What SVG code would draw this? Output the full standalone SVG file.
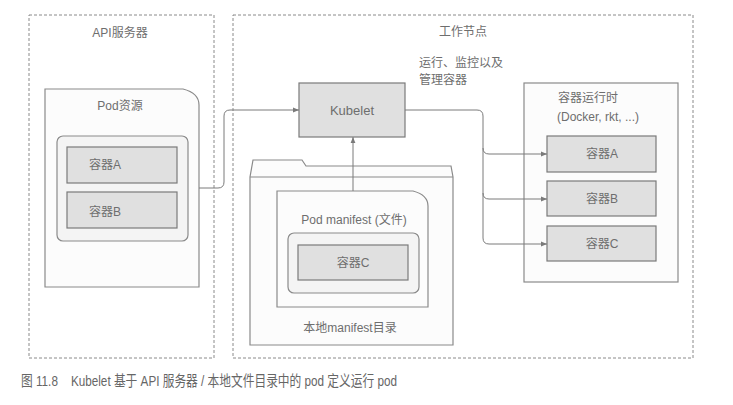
<svg xmlns="http://www.w3.org/2000/svg" width="733" height="405" viewBox="0 0 733 405">
<defs>
<style>
text{font-family:"Liberation Sans","Noto Sans CJK SC",sans-serif;font-size:12px;fill:#6e6e6e}
.dash{fill:#fff;stroke:#8a8a8a;stroke-width:1;stroke-dasharray:3,2}
.doc{fill:#fcfcfc;stroke:#8a8a8a;stroke-width:1.2}
.inner{fill:#f4f4f4;stroke:#8a8a8a;stroke-width:1.2}
.gray{fill:#e0e0e0;stroke:#7a7a7a;stroke-width:1.2}
.conn{fill:none;stroke:#7a7a7a;stroke-width:1}
.mid{text-anchor:middle}
</style>
<marker id="arr" viewBox="0 0 10 10" refX="10" refY="5" markerWidth="7" markerHeight="6" orient="auto" markerUnits="userSpaceOnUse">
<path d="M0,1 L10,5 L0,9 Z" fill="#7a7a7a"/>
</marker>
</defs>
<rect width="733" height="405" fill="#fff"/>

<g id="api-server">
<rect class="dash" x="29" y="15" width="185" height="343"/>
<text class="mid" x="120" y="37">API服务器</text>
</g>

<g id="worker-node">
<rect class="dash" x="233" y="15" width="460" height="343"/>
<text class="mid" x="463" y="36">工作节点</text>
<text x="419" y="67">运行、监控以及</text>
<text x="419" y="84">管理容器</text>
</g>

<g id="pod-resource">
<path class="doc" d="M45,89 H183 Q199,93 199,105 V287 H45 Z"/>
<text class="mid" x="120" y="110">Pod资源</text>
<rect class="inner" x="57" y="136" width="131" height="105" rx="6"/>
</g>
<g id="api-container-a">
<rect class="gray" x="67" y="147" width="110" height="36"/>
<text class="mid" x="105" y="169">容器A</text>
</g>
<g id="api-container-b">
<rect class="gray" x="67" y="192" width="110" height="36"/>
<text class="mid" x="105" y="216">容器B</text>
</g>

<g id="kubelet">
<rect class="gray" x="299" y="83" width="106" height="54"/>
<text class="mid" x="352" y="115" style="font-size:13px">Kubelet</text>
</g>

<g id="manifest-dir">
<path class="doc" d="M250,345 V177 L253,160 H302 L306,166 H451 L453,177 V345 Z"/>
<line x1="250" y1="177" x2="453" y2="177" stroke="#8a8a8a" stroke-width="1.2"/>
<text class="mid" x="350" y="332">本地manifest目录</text>
</g>

<g id="pod-manifest">
<path class="doc" d="M277,191 H413 Q428,195 428,206 V307 H277 Z"/>
<text class="mid" x="354" y="224">Pod manifest (文件)</text>
<rect class="inner" x="288" y="233" width="131" height="60" rx="6"/>
</g>
<g id="manifest-container-c">
<rect class="gray" x="298" y="245" width="110" height="35"/>
<text class="mid" x="353" y="267">容器C</text>
</g>

<g id="container-runtime">
<rect class="doc" x="524" y="83" width="154" height="199"/>
<text x="558" y="102">容器运行时</text>
<text x="557" y="121">(Docker, rkt, ...)</text>
</g>
<g id="runtime-container-a">
<rect class="gray" x="547" y="136" width="109" height="36"/>
<text class="mid" x="602" y="158">容器A</text>
</g>
<g id="runtime-container-b">
<rect class="gray" x="547" y="181" width="109" height="35"/>
<text class="mid" x="602" y="203">容器B</text>
</g>
<g id="runtime-container-c">
<rect class="gray" x="547" y="226" width="109" height="35"/>
<text class="mid" x="602" y="248">容器C</text>
</g>

<g id="connectors">
<path class="conn" marker-end="url(#arr)" d="M199,188 H218 Q224,188 224,182 V116 Q224,110 230,110 H299"/>
<path class="conn" marker-end="url(#arr)" d="M353,191 V137"/>
<path class="conn" marker-end="url(#arr)" d="M405,110 H477 Q483,110 483,116 V148 Q483,154 489,154 H547"/>
<path class="conn" marker-end="url(#arr)" d="M483,148 V193 Q483,199 489,199 H547"/>
<path class="conn" marker-end="url(#arr)" d="M483,193 V238 Q483,244 489,244 H547"/>
</g>

<text x="21" y="386" xml:space="preserve" textLength="376" lengthAdjust="spacingAndGlyphs" style="font-size:15px;fill:#666">图 11.8    Kubelet 基于 API 服务器 / 本地文件目录中的 pod 定义运行 pod</text>
</svg>
